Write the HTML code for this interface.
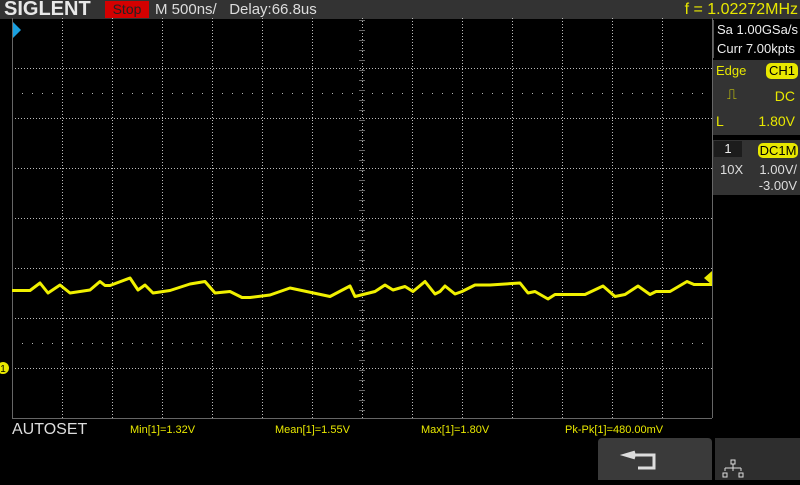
<!DOCTYPE html>
<html><head><meta charset="utf-8"><style>
body{margin:0;width:800px;height:480px;background:#000;overflow:hidden;font-family:"Liberation Sans",sans-serif;position:relative}
.a{position:absolute;white-space:nowrap}
.y{color:#e8e800}
</style></head><body>
<div class="a" style="left:0;top:0;width:800px;height:19px;background:#333"></div>
<div class="a" style="left:4px;top:-2px;font-size:20px;font-weight:bold;color:#e8e8e8;letter-spacing:0px">SIGLENT</div>
<div class="a" style="left:105px;top:1px;width:44px;height:17px;background:#d40000;color:#222;font-size:14px;text-align:center;line-height:17px">Stop</div>
<div class="a" style="left:155px;top:0;font-size:15px;color:#ddd;line-height:19px">M 500ns/&nbsp;&nbsp; Delay:66.8us</div>
<div class="a y" style="right:2px;top:0;font-size:16px;line-height:19px">f = 1.02272MHz</div>

<div class="a" style="left:713px;top:20px;width:87px;height:38px;border-left:1px solid #555;color:#eee;font-size:13px;line-height:19px;padding-left:3px">Sa 1.00GSa/s<br>Curr 7.00kpts</div>
<div class="a" style="left:713px;top:60px;width:87px;height:75px;background:#333"></div>
<div class="a y" style="left:716px;top:63px;font-size:13px">Edge</div>
<div class="a" style="left:766px;top:63px;width:32px;height:16px;background:#e8e800;border-radius:5px;color:#000;font-size:13px;text-align:center;line-height:16px">CH1</div>
<div class="a y" style="left:727px;top:86px;font-size:14px">⎍</div>
<div class="a y" style="right:5px;top:88px;font-size:14px">DC</div>
<div class="a y" style="left:716px;top:113px;font-size:14px">L</div>
<div class="a y" style="right:5px;top:113px;font-size:14px">1.80V</div>
<div class="a" style="left:713px;top:140px;width:87px;height:55px;background:#333"></div>
<div class="a" style="left:714px;top:141px;width:28px;height:16px;background:#1c1c1c;color:#eee;font-size:13px;text-align:center">1</div>
<div class="a" style="left:758px;top:143px;width:40px;height:15px;background:#e8e800;border-radius:5px;color:#000;font-size:13px;text-align:center;line-height:15px">DC1M</div>
<div class="a" style="left:720px;top:162px;font-size:13px;color:#ddd">10X</div>
<div class="a" style="right:3px;top:162px;font-size:13px;color:#ddd;text-align:right;line-height:16px">1.00V/<br>-3.00V</div>

<svg class="a" style="left:0;top:0" width="800" height="480">
<g id="grid"></g>
<polygon points="13,22 21,30 13,38" fill="#1aa0e0"/>
<polyline id="trace" fill="none" stroke="#f0f000" stroke-width="3" stroke-linejoin="round"/>
<polygon points="712,271 704,278 712,285" fill="#e8e800"/>
<circle cx="3" cy="368" r="6" fill="#e8e800"/>
<text x="3" y="372" font-size="10" text-anchor="middle" fill="#000" font-family="Liberation Sans">1</text>
</svg>

<div class="a" style="left:12px;top:421px;font-size:16px;color:#ddd">AUTOSET</div>
<div class="a y" style="left:130px;top:424px;font-size:11px">Min[1]=1.32V</div>
<div class="a y" style="left:275px;top:424px;font-size:11px">Mean[1]=1.55V</div>
<div class="a y" style="left:421px;top:424px;font-size:11px">Max[1]=1.80V</div>
<div class="a y" style="left:565px;top:424px;font-size:11px">Pk-Pk[1]=480.00mV</div>
<div class="a" style="left:598px;top:438px;width:114px;height:42px;background:#3a3a3a;border-radius:4px 4px 0 0">
<svg width="114" height="42"><path d="M37 14 L27 17 L37 20 M28 17 H56 V30 H40" fill="none" stroke="#ddd" stroke-width="3"/></svg></div>
<div class="a" style="left:715px;top:438px;width:85px;height:42px;background:#2e2e2e">
<svg width="85" height="42"><g fill="none" stroke="#ddd" stroke-width="1"><rect x="16" y="22" width="4" height="4"/><path d="M18 26V30M10 30H26M10 30V33M26 30V33M18 30V33"/><rect x="8" y="35" width="4" height="4"/><rect x="24" y="35" width="4" height="4"/></g></svg></div>

<script>
const timeDiv=[0,0.36,0.56,0.72,0.96,1.16,1.56,1.76,1.86,1.96,2.36,2.52,2.66,2.82,3.16,3.56,3.86,4.06,4.36,4.6,4.76,5.16,5.56,6.36,6.76,6.86,7.26,7.46,7.62,7.86,8.02,8.26,8.46,8.56,8.66,8.86,9.0,9.26,9.56,10.16,10.32,10.46,10.72,10.86,11.06,11.46,11.82,12.06,12.26,12.52,12.76,12.88,13.16,13.5,13.64,14];
const volts=[1.55,1.55,1.70,1.50,1.66,1.50,1.56,1.73,1.65,1.65,1.80,1.56,1.66,1.50,1.55,1.68,1.73,1.50,1.53,1.41,1.41,1.46,1.60,1.43,1.64,1.43,1.53,1.66,1.56,1.63,1.53,1.73,1.48,1.53,1.64,1.48,1.53,1.66,1.66,1.70,1.50,1.53,1.38,1.47,1.47,1.47,1.64,1.43,1.47,1.64,1.47,1.53,1.53,1.73,1.67,1.67];
const X0=12,DIVPX=50,ZEROY=368,VPX=50;
const xs=t=>X0+t*DIVPX, ys=v=>ZEROY-v*VPX;
const NS='http://www.w3.org/2000/svg';
const g=document.getElementById('grid');
function ln(x1,y1,x2,y2,dash,name){const l=document.createElementNS(NS,'line');
l.setAttribute('x1',x1);l.setAttribute('y1',y1);l.setAttribute('x2',x2);l.setAttribute('y2',y2);
l.setAttribute('stroke',dash?'#bbb':'#666');l.setAttribute('stroke-width','1');
if(dash)l.setAttribute('stroke-dasharray',dash);


g.appendChild(l);}
for(let i=1;i<14;i++)ln(xs(i)+0.5,18,xs(i)+0.5,418,'1 2','grid-vertical');
for(let j=1;j<8;j++)ln(12,18+j*50+0.5,712,18+j*50+0.5,'1 2','grid-horizontal');
ln(12,93.5,712,93.5,'1 9','grid-subline');
ln(12,343.5,712,343.5,'1 9','grid-subline');
ln(12.5,18,12.5,418,null,'plot-border-left');
ln(712.5,18,712.5,418,null,'plot-border-right');
ln(12,418.5,712,418.5,null,'plot-border-bottom');
for(let y=20;y<418;y+=10)ln(359,y+0.5,365,y+0.5,null,'center-tick');
const pts=[];
for(let i=0;i<timeDiv.length;i++){
  const x=xs(timeDiv[i]),y=ys(volts[i]);
  pts.push(x+','+y);
}
document.getElementById('trace').setAttribute('points',pts.join(' '));
</script>
</body></html>
